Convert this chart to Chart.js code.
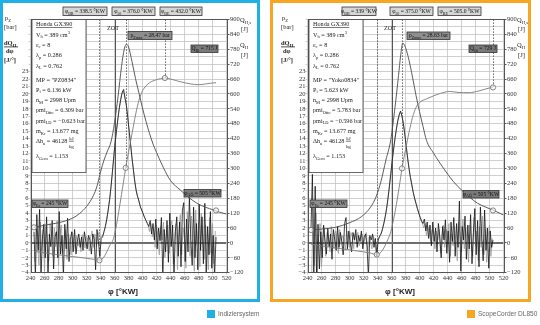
<!DOCTYPE html>
<html>
<head>
<meta charset="utf-8">
<script src="https://cdn.jsdelivr.net/npm/chart.js@4.4.1/dist/chart.umd.min.js"></script>
<style>
  html, body { margin:0; padding:0; background:#fff; }
  body { width:540px; height:325px; position:relative; overflow:hidden; font-family:"Liberation Sans", Arial, sans-serif; }
  .plot { position:absolute; top:0; width:260px; height:302px; }
  .frame { position:absolute; top:0; height:302px; border:3px solid; box-sizing:border-box; pointer-events:none; }
  .key { position:absolute; top:310px; height:8px; font-size:6.5px; line-height:8px; color:#666; white-space:nowrap; }
  .key i { display:inline-block; width:8px; height:8px; vertical-align:top; margin-right:3px; }
</style>
</head>
<body>
<div class="plot" style="left:0"><canvas id="chartA" width="260" height="302"></canvas></div>
<div class="plot" style="left:277px"><canvas id="chartB" width="260" height="302"></canvas></div>
<div class="frame" style="left:0;width:260px;border-color:#1fb1e6"></div>
<div class="frame" style="left:270px;width:261px;border-color:#f6a623"></div>
<div class="key" style="left:207px"><i style="background:#1fb1e6"></i>Indiziersystem</div>
<div class="key" style="left:467px"><i style="background:#f6a623"></i>ScopeCorder DL850</div>
<script>
const phiMin = 240, phiMax = 520;
const dqStart = 245, dqGreyStart = 246, dqStep = 2;

// ---------- Indiziersystem ----------
// dQ/dphi [J/deg], black trace at 245,247,...,505
const dqA = [
  1.5, -4.5, 3.8, -1, 4.5, -4.5, 0.5, 2.5, -2, 3.5,
  -4.5, 1.2, -0.5, 3, -3.5, 0.8, 1.5, -2, 4.2, -1.5,
  1, -4.5, 2.5, -0.8, 3.3, -2.5, 0.5, 1.5, -1.2, 1.8,
  -1.5, 0.2, 1.2, -0.6, 0.8, -1, 1.5, 0.2, -0.8, 1,
  0.3, -1.5, 1.2, 0.5, -3.6, 1.8, 0.2, -1.8, 0.6, 0.8,
  1.5, 2.2, 3.2, 4.4, 5.8, 7.5, 9.5, 11.6, 13.5, 15.2,
  16.8, 18.2, 19.3, 20.2, 20.6, 19.4, 18.5, 16.8, 15, 13.2,
  11.4, 9.8, 8.2, 7, 6.2, 5.6, 4.8, 4.4, 3.9, 3.4,
  3, 2.6, 2.2, 3, 1.2, 2.6, 0.4, 3.2, -0.8, 2,
  0.3, 3.4, -4.5, 1.8, -1.2, 3, -2.6, 4, -0.5, 2.4,
  -4.5, 1.5, 3.5, -1.8, 2.8, -3.2, 4.4, 5.4, -2.5, 3.2,
  -1.2, 6.1, 0.5, -3, 4.8, -2, 2.6, -3.6, 5.2, -1,
  3.5, -2.8, 5.3, -4.5, 2.2, -1.6, 4.2, -3.4, 1, -4.5,
  0.8
];
// grey trace at 246,248,...,504
const dqGreyA = [
  -2.5, 2, 0.5, -3, 2.8, -1, 1.8, -3.8, 2.2, 0.6,
  -2.4, 2.6, 0.2, -1.8, 2, -0.5, 3, -3, 1, 2.4,
  -1.4, 0.8, 1.8, -2.2, 1.2, 0.3, -1.6, 1.4, 0.1, -0.9,
  1, -0.4, 0.6, -1.2, 1.1, 0.2, -0.7, 0.9, 0.4, -1.1,
  0.8, 1.6, -0.6, 1.2, -0.5, 0.7, 1.5, 0.6, 0.9, 1.2,
  1.9, 2.7, 3.8, 5.1, 6.6, 8.5, 10.6, 12.6, 14.4, 16,
  17.5, 18.8, 19.8, 20.4, 20, 19, 17.6, 15.9, 14.1, 12.3,
  10.6, 9, 7.6, 6.6, 5.9, 5.2, 4.6, 4.1, 3.6, 3.2,
  2.8, 2.4, 1.5, 2.6, 0.8, 1.9, -0.6, 2.4, 0.9, -1.6,
  2.2, 0.4, 2.8, -2, 1.2, 2.4, -1.4, 2.2, 3, -2.8,
  0.9, 2.6, -3.6, 1.4, 3.8, -1.6, 2, 0.4, -3.4, 4.2,
  1.2, -1.8, 3.6, 0.6, -3.8, 4.4, -0.2, 2.8, -3.2, 4,
  0.8, -2.2, 2.4, 0.2, -3.6, 3.4, -1.4, 2.6, -2.8, 1.6
];
// cylinder pressure p_Z [bar]
const pPhiA = [245, 260, 280, 300, 310, 320, 330, 335, 340, 345, 350, 355, 360, 365, 370, 374, 377, 380, 385, 390, 395, 400, 405, 410, 415, 420, 430, 440, 454, 466, 478, 490, 502, 510, 520];
const pA    = [2.45, 2.75, 3.1, 3.75, 4.4, 5.4, 7.0, 8.3, 10.3, 12.0, 13.3, 14.6, 17.3, 21.0, 25.3, 27.8, 28.47, 28.1, 26.0, 23.6, 21.5, 19.4, 17.5, 15.8, 14.3, 13.1, 10.9, 9.1, 7.75, 6.7, 5.86, 5.3, 4.9, 4.6, 4.34];
// cumulative heat release Q_H [J]
const qPhiA = [245, 260, 280, 300, 320, 330, 338.5, 342, 346, 350, 354, 358, 362, 366, 370, 376, 380, 385, 390, 395, 400, 405, 410, 420, 432, 440, 450, 460, 469, 480, 490, 500, 505];
const qA    = [-34, -40, -48, -55, -62, -66, -70, -66, -52, -30, -6, 13, 60, 125, 195, 302, 365, 440, 515, 575, 612, 632, 645, 657, 664, 660, 652, 645, 640, 637, 640, 644, 645];
const markPhiA = [338.5, 376, 432];
const markQA   = [-70, 302, 664];
const pMarkPhiA = [245, 505];
const pMarkA    = [2.45, 4.85];

// ---------- ScopeCorder DL850 ----------
const dqB = [
  2, 9.2, -4.5, 7.6, -4.5, 2.5, -3.5, 1.5, -2, 2.4,
  0.2, -1.5, 2, -0.5, 1.2, -2.2, 1.8, 0.4, -1, 2.2,
  -0.6, 1.4, 0.2, -1.6, 2.6, 3.4, -0.8, 1.6, 0, -1.2,
  1.4, 0.4, 1.8, -0.6, 1, 0.2, 1.6, -0.8, 0.8, 1.2,
  -0.4, -4.5, 1, 0.4, 1.2, -0.6, 0.6, -1.8, 0.4, 0.9,
  1.2, 1.8, 2.6, 3.5, 4.6, 6, 7.6, 9.3, 11, 12.6,
  14, 15.3, 16.4, 17.2, 17.7, 17, 16, 14.6, 13, 11.4,
  10, 8.8, 7.8, 6.8, 6, 5.3, 4.6, 4, 3.4, 2.9,
  2.6, 3.2, 1.6, 2.8, 0.6, 2.4, -0.4, 2.8, 0.2, 2,
  -1.2, 2.6, 0.8, -2, 2.2, 0.4, 3.1, -1.4, 1.6, -2.6,
  2.8, 0.2, 3.4, -1.8, 2.6, -0.6, 5.6, -3.8, 2.2, 0.4,
  3.6, -2.2, 2.4, -0.8, 3.8, -2.8, 1.4, 4.6, -1.6, 3,
  -3.2, 4.8, 0.6, -2.4, 4.4, -1, 2, -3.4, 1.6, -0.6,
  0.4
];
const dqGreyB = [
  -4.5, 5, -3, 4, -4.5, 0.6, 2.6, -3.2, 1, 2,
  -1.8, 1.4, 0.4, -1.2, 2.2, 0.2, -0.8, 1.6, 0.8, -1.4,
  1.8, -0.2, 1, 0.6, -1, 1.6, 0.4, -0.6, 1.4, 0.8,
  -0.8, 1.2, 0.2, 1.4, -0.4, 0.8, 1.2, -0.2, 0.6, 1.4,
  -1, 0.8, 0.2, -0.8, 0.9, 0.3, -1.2, 0.2, 0.6, 1,
  1.5, 2.2, 3, 4, 5.3, 6.8, 8.4, 10.1, 11.8, 13.3,
  14.7, 15.9, 16.8, 17.5, 17.4, 16.5, 15.3, 13.8, 12.2, 10.7,
  9.4, 8.3, 7.3, 6.4, 5.6, 5, 4.3, 3.7, 3.2, 2.7,
  2, 2.6, 1, 2.2, 1.4, 0.2, 1.8, 1, -0.8, 1.6,
  0.4, 1.8, -1.4, 1, 2.4, -0.6, 1.8, 0.6, 2.6, -1.8,
  1.2, -0.4, 2.2, 0.4, -2.4, 2.8, 1, -1.2, 3.2, -0.8,
  2, 0.6, -2.6, 2.4, 0.2, -1.8, 3.4, -0.4, 1.6, -2.4,
  2.2, -0.6, 3.6, -1.6, 1.8, -2.6, 0.8, 2.4, -1.8, 0.6
];
const pPhiB = [245, 260, 280, 300, 317, 330, 338, 345, 352, 359, 365, 370, 373, 376, 380, 385, 390, 395, 400, 405, 410, 420, 436, 448, 460, 472, 483, 495, 505, 520];
const pB    = [2.07, 2.2, 2.45, 3.1, 3.96, 5.3, 6.8, 9.0, 12.0, 14.9, 19.5, 24.0, 26.8, 28.63, 28.0, 26.2, 23.8, 21.2, 18.9, 16.8, 14.8, 13.0, 10.6, 9.0, 7.75, 6.7, 5.86, 5.3, 4.9, 4.2];
const qPhiB = [245, 260, 280, 300, 320, 330, 339, 343, 347, 351, 355, 359, 363, 367, 371, 375, 380, 385, 390, 395, 400, 410, 420, 430, 443, 455, 471, 485, 500, 505];
const qB    = [-5, -12, -20, -28, -36, -41, -47, -43, -30, -10, 15, 45, 95, 155, 225, 300, 375, 445, 505, 545, 565, 580, 592, 602, 610, 606, 605, 612, 624, 626];
const markPhiB = [339, 375, 505];
const markQB   = [-47, 300, 626];
const pMarkPhiB = [245, 505];
const pMarkB    = [2.07, 4.85];

const SERIF = '"Liberation Serif", "Times New Roman", serif';

// rich text: '_x' = subscript, '^x' = superscript, '/a|b' = stacked fraction
function segFont(size, bold) { return (bold ? 'bold ' : '') + size + 'px ' + SERIF; }
function richWidth(ctx, segs, size, bold) {
  let w = 0;
  segs.forEach(s => {
    if (s[0] === '/') {
      ctx.font = segFont(size * 0.8, bold);
      w += Math.max(...s.slice(1).split('|').map(t => ctx.measureText(t).width));
    } else if (s[0] === '_' || s[0] === '^') {
      ctx.font = segFont(size * 0.72, bold); w += ctx.measureText(s.slice(1)).width;
    } else { ctx.font = segFont(size, bold); w += ctx.measureText(s).width; }
  });
  return w;
}
function drawRich(ctx, segs, x, y, size, bold) {
  ctx.textBaseline = 'alphabetic'; ctx.textAlign = 'left';
  segs.forEach(s => {
    if (s[0] === '/') {
      const [a, b] = s.slice(1).split('|');
      ctx.font = segFont(size * 0.8, bold);
      const w = Math.max(ctx.measureText(a).width, ctx.measureText(b).width);
      ctx.fillText(a, x + (w - ctx.measureText(a).width) / 2, y - size * 0.55);
      ctx.fillText(b, x + (w - ctx.measureText(b).width) / 2, y + size * 0.75);
      ctx.fillRect(x, y - size * 0.35, w, 0.6);
      x += w;
      return;
    }
    let t = s, sz = size, dy = 0;
    if (s[0] === '_') { t = s.slice(1); sz = size * 0.72; dy = size * 0.28; }
    else if (s[0] === '^') { t = s.slice(1); sz = size * 0.72; dy = -size * 0.42; }
    ctx.font = segFont(sz, bold);
    ctx.fillText(t, x, y + dy);
    x += ctx.measureText(t).width;
  });
  return x;
}

const panelA = {
  dq: dqA, dqGrey: dqGreyA, pPhi: pPhiA, p: pA, qPhi: qPhiA, q: qA,
  markPhi: markPhiA, markQ: markQA, pMarkPhi: pMarkPhiA, pMark: pMarkA,
  info: [
    ['Honda GX390'], ['V', '_h', ' = 389 cm', '^3'], ['ε', '_c', ' = 8'], ['λ', '_p', ' = 0.286'], ['λ', '_L', ' = 0.762'],
    ['MP = "PZ0834"'], ['P', '_i', ' = 6.136 kW'], ['n', '_M', ' = 2998 Upm'], ['pmi', '_Otto', ' = 6.309 bar'],
    ['pmi', '_LD', ' = −0.623 bar'], ['m', '_Kr', ' = 13.677 mg'], ['Δh', '_u', ' = 46128 ', '/kJ|kg'], ['λ', '_Gem', ' = 1.153']
  ],
  tags: [
    { segs: ['φ', '_BB', ' = 338.5 °KW'], box: [63, 7, 107, 15.5], fill: '#d6d6d6' },
    { segs: ['φ', '_50', ' = 376.0 °KW'], box: [112, 7, 155, 15.5], fill: '#d6d6d6' },
    { segs: ['φ', '_BE', ' = 432.0 °KW'], box: [160, 7, 202, 15.5], fill: '#d6d6d6' },
    { segs: ['p', '_Zmax', ' = 28.47 bar'], box: [128, 31.5, 172, 39.5], fill: '#8e8e8e' },
    { segs: ['Q', '_Bi', ' = 715 J'], box: [191, 45, 218, 52.5], fill: '#7a7a7a' },
    { segs: ['φ', '_Es', ' = 245 °KW'], box: [32, 200, 68, 207.5], fill: '#8e8e8e' },
    { segs: ['φ', '_AÖ', ' = 505 °KW'], box: [184, 189.5, 221, 197], fill: '#7a7a7a' }
  ]
};
const panelB = {
  dq: dqB, dqGrey: dqGreyB, pPhi: pPhiB, p: pB, qPhi: qPhiB, q: qB,
  markPhi: markPhiB, markQ: markQB, pMarkPhi: pMarkPhiB, pMark: pMarkB,
  info: [
    ['Honda GX390'], ['V', '_h', ' = 389 cm', '^3'], ['ε', '_c', ' = 8'], ['λ', '_p', ' = 0.286'], ['λ', '_L', ' = 0.762'],
    ['MP = "Yoko0834"'], ['P', '_i', ' = 5.623 kW'], ['n', '_M', ' = 2998 Upm'], ['pmi', '_Otto', ' = 5.783 bar'],
    ['pmi', '_LD', ' = −0.596 bar'], ['m', '_Kr', ' = 13.677 mg'], ['Δh', '_u', ' = 46128 ', '/kJ|kg'], ['λ', '_Gem', ' = 1.153']
  ],
  tags: [
    { segs: ['φ', '_BB', ' = 339 °KW'], box: [65, 7, 99, 15.5], fill: '#d6d6d6' },
    { segs: ['φ', '_50', ' = 375.0 °KW'], box: [113, 7, 156, 15.5], fill: '#d6d6d6' },
    { segs: ['φ', '_BE', ' = 505.0 °KW'], box: [161, 7, 204, 15.5], fill: '#d6d6d6' },
    { segs: ['p', '_Zmax', ' = 28.63 bar'], box: [130, 32, 173, 39.5], fill: '#8e8e8e' },
    { segs: ['Q', '_Bi', ' = 729 J'], box: [192, 45, 220, 52.5], fill: '#7a7a7a' },
    { segs: ['φ', '_Es', ' = 245 °KW'], box: [33, 200, 70, 207.5], fill: '#8e8e8e' },
    { segs: ['φ', '_AÖ', ' = 505 °KW'], box: [186, 190.5, 222, 198], fill: '#7a7a7a' }
  ]
};

const infoRows = [26, 36.5, 46.5, 57, 67.5, 82, 91.5, 102, 112, 122.5, 133, 143, 158];

function xy(xs, ys) { return ys.map((y, i) => ({ x: xs[i], y })); }
function trace(start, ys) { return ys.map((y, i) => ({ x: start + i * dqStep, y })); }

function decor(d) {
  const hline = (ctx, x1, y1, x2, y2) => { ctx.beginPath(); ctx.moveTo(x1, y1); ctx.lineTo(x2, y2); ctx.stroke(); };
  return {
    id: 'decor',
    beforeDatasetsDraw(chart) {
      const { ctx, chartArea: a, scales } = chart;
      ctx.save();
      ctx.strokeStyle = '#555'; ctx.lineWidth = 1;
      const xz = Math.round(scales.x.getPixelForValue(360)) + 0.5;
      hline(ctx, xz, a.top, xz, a.bottom);
      ctx.setLineDash([1.5, 1.5]);
      ctx.strokeStyle = '#666';
      d.markPhi.forEach((phi, i) => {
        const x = Math.round(scales.x.getPixelForValue(phi)) + 0.5;
        hline(ctx, x, a.top, x, scales.y2.getPixelForValue(d.markQ[i]));
      });
      ctx.restore();
    },
    afterDraw(chart) {
      const { ctx, chartArea: a } = chart;
      ctx.save();
      ctx.strokeStyle = '#555'; ctx.lineWidth = 1;
      ctx.strokeRect(Math.round(a.left) + 0.5, Math.round(a.top) + 0.5, Math.round(a.right - a.left), Math.round(a.bottom - a.top));

      // engine data block
      ctx.fillStyle = '#fff';
      ctx.fillRect(32, 19.5, 54, 153);
      ctx.strokeStyle = '#444'; ctx.lineWidth = 0.8;
      ctx.strokeRect(32, 19.5, 54, 153);
      ctx.fillStyle = '#222';
      d.info.forEach((segs, i) => {
        const end = drawRich(ctx, segs, 36, infoRows[i], 6.2);
        if (i === 0) ctx.fillRect(36, infoRows[i] + 1, end - 36, 0.6);
      });

      // tags
      d.tags.forEach(t => {
        const [x0, y0, x1, y1] = t.box;
        ctx.fillStyle = t.fill; ctx.fillRect(x0, y0, x1 - x0, y1 - y0);
        ctx.strokeStyle = '#333'; ctx.lineWidth = 0.8; ctx.strokeRect(x0, y0, x1 - x0, y1 - y0);
        ctx.fillStyle = '#111';
        const w = richWidth(ctx, t.segs, 5.6);
        drawRich(ctx, t.segs, (x0 + x1 - w) / 2, y1 - 2.3, 5.6);
      });

      ctx.fillStyle = '#222';
      ctx.font = segFont(6.2);
      ctx.textAlign = 'center';
      ctx.fillText('ZOT', 113, 30);

      // axis titles
      drawRich(ctx, ['p', '_Z'], 5, 20, 6.5);
      drawRich(ctx, ['[bar]'], 4, 29, 6.5);
      drawRich(ctx, ['dQ', '_H'], 4, 45, 6.5, true);
      ctx.fillRect(4, 46.5, 14, 0.8);
      drawRich(ctx, ['dφ'], 6, 53, 6.5, true);
      drawRich(ctx, ['[J/°]'], 4, 62, 6.5, true);
      drawRich(ctx, ['Q', '_H,s'], 240, 22, 6.5);
      drawRich(ctx, ['[J]'], 241, 31, 6.5);
      drawRich(ctx, ['Q', '_H'], 240, 47, 6.5);
      drawRich(ctx, ['[J]'], 241, 57, 6.5);

      ctx.font = 'bold 8px "Liberation Sans", Arial, sans-serif';
      ctx.textAlign = 'center'; ctx.textBaseline = 'middle';
      ctx.fillText('φ [°KW]', 123, 292);
      ctx.restore();
    }
  };
}

function build(id, d) {
  const tickFont = { family: SERIF, size: 6.5 };
  const minus = v => String(v).replace('-', '−');
  const ring = { showLine: false, pointRadius: 2.6, pointBorderWidth: 0.8, pointBorderColor: '#666', pointBackgroundColor: 'rgba(255,255,255,0.6)' };
  new Chart(document.getElementById(id), {
    type: 'line',
    data: {
      datasets: [
        Object.assign({ data: xy(d.markPhi, d.markQ), yAxisID: 'y2' }, ring),
        Object.assign({ data: xy(d.pMarkPhi, d.pMark), yAxisID: 'yP' }, ring),
        { data: xy(d.pPhi, d.p), yAxisID: 'yP', borderColor: '#4a4a4a', borderWidth: 0.9, cubicInterpolationMode: 'monotone' },
        { data: xy(d.qPhi, d.q), yAxisID: 'y2', borderColor: '#7a7a7a', borderWidth: 0.9, cubicInterpolationMode: 'monotone' },
        { data: trace(dqStart, d.dq), yAxisID: 'y', borderColor: '#141414', borderWidth: 0.8 },
        { data: trace(dqGreyStart, d.dqGrey), yAxisID: 'y', borderColor: '#9b9b9b', borderWidth: 0.8 },
        { data: [{ x: phiMin, y: 0 }, { x: phiMax, y: 0 }], yAxisID: 'y', borderColor: '#6e6e6e', borderWidth: 2 }
      ]
    },
    options: {
      responsive: false,
      animation: false,
      events: [],
      layout: { padding: { top: 19.4, left: 0, right: 0, bottom: 0 } },
      plugins: { legend: { display: false }, tooltip: { enabled: false } },
      elements: { point: { radius: 0 }, line: { tension: 0 } },
      scales: {
        x: {
          type: 'linear', min: phiMin, max: phiMax,
          ticks: { stepSize: 20, autoSkip: false, maxRotation: 0, padding: 0, font: tickFont, color: '#333' },
          grid: { color: '#c3c3c3', lineWidth: 0.8, tickLength: 2 },
          border: { display: false },
          afterFit: s => { s.height = 29.3; }
        },
        y: {
          position: 'left', min: -4, max: 30,
          ticks: { stepSize: 1, autoSkip: false, padding: 0, font: tickFont, color: '#333', callback: v => v <= 23 ? minus(v) : '' },
          grid: { color: '#c3c3c3', lineWidth: 0.8, tickLength: 2 },
          border: { display: false },
          afterFit: s => { s.width = 30.5; }
        },
        y2: {
          position: 'right', min: -120, max: 900,
          ticks: { stepSize: 60, autoSkip: false, padding: 0.5, font: tickFont, color: '#333', callback: v => minus(v) },
          grid: { drawOnChartArea: false, color: '#555', tickLength: 3 },
          border: { display: false },
          afterFit: s => { s.width = 33.5; }
        },
        yP: { display: false, min: -4, max: 32 }
      }
    },
    plugins: [decor(d)]
  });
}

build('chartA', panelA);
build('chartB', panelB);
</script>
</body>
</html>
